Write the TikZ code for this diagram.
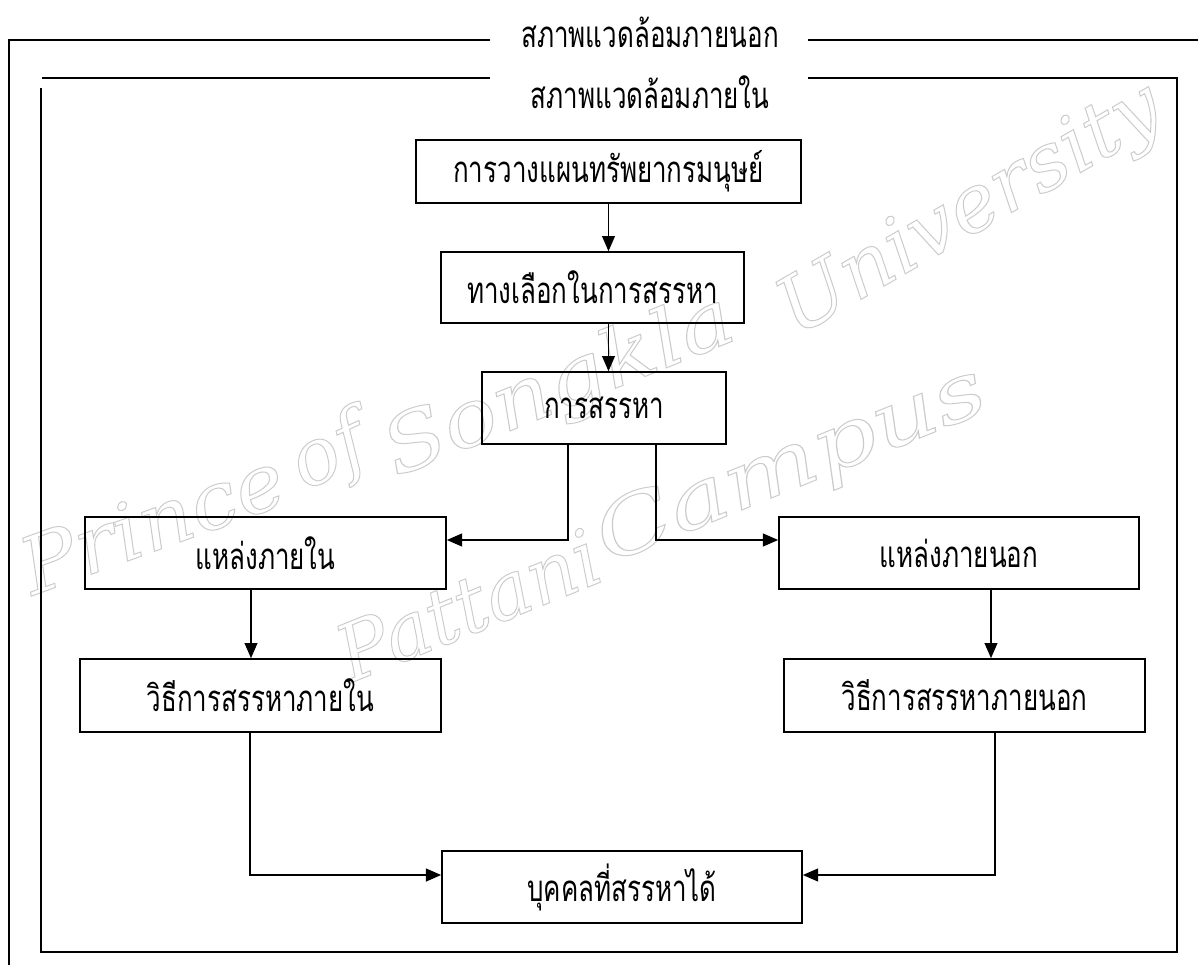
\documentclass[tikz,border=0pt]{standalone}
\usepackage{fontspec}
\usepackage{graphicx}
\newfontfamily\thaifont[Script=Thai, FakeStretch=0.71]{Loma}
\newfontfamily\wmfont{DejaVu Serif}
\usetikzlibrary{arrows.meta}
\newcommand{\outlinetext}[1]{\special{pdf:literal direct 1 Tr 0.7 w}#1\special{pdf:literal direct 0 Tr}}
\newcommand{\wmword}[2]{\scalebox{#1}[1]{\outlinetext{#2}}}
\begin{document}
\begin{tikzpicture}[x=0.025cm,y=-0.025cm,
  box/.style={draw, line width=1.1pt, inner sep=0pt, font=\thaifont\fontsize{26}{30}\selectfont},
  ttl/.style={inner sep=0pt, font=\thaifont\fontsize{26}{30}\selectfont},
  frame/.style={line width=1.2pt},
  conn/.style={line width=1.1pt, -{Triangle[length=0.38cm,width=0.32cm]}},
  wm/.style={inner sep=0pt, text=gray!40, font=\wmfont\itshape\fontsize{56}{60}\selectfont}
]
\useasboundingbox (0,0) rectangle (1198,965);
\fill[white] (0,0) rectangle (1198,965);
% watermark (drawn beneath the diagram)
\node[wm, rotate=20] (w1) at (152,522) {\wmword{1.07}{Prince}};
\node[wm, rotate=25] (w2) at (330,455) {\wmword{1.0}{of}};
\node[wm, rotate=22] (w3) at (560,388) {\wmword{1.15}{Songkla}};
\node[wm, rotate=30] (w4) at (972,212) {\wmword{1.04}{University}};
\node[wm, rotate=22] (w5) at (468,605) {\wmword{0.98}{Pattani}};
\node[wm, rotate=22] (w6) at (792,467) {\wmword{1.28}{Campus}};
% frames
\node[ttl] (t1) at (650,32) {สภาพแวดล้อมภายนอก};
\node[ttl] (t2) at (650,92) {สภาพแวดล้อมภายใน};
\draw[frame] (490,40) -- (9,40) -- (9,965);
\draw[frame] (808,40) -- (1198,40);
\draw[frame] (42,78) -- (490,78);
\draw[frame] (808,78) -- (1177,78) -- (1177,952) -- (41,952) -- (41,88);
% boxes
\node[box, minimum width=9.625cm, minimum height=1.575cm] (A) at (608.5,171.5) {การวางแผนทรัพยากรมนุษย์};
\node[box, minimum width=7.575cm, minimum height=1.775cm] (B) at (592.5,287.5) {ทางเลือกในการสรรหา};
\node[box, minimum width=6.1cm, minimum height=1.8cm] (C) at (604,408) {การสรรหา};
\node[box, minimum width=9.025cm, minimum height=1.8cm] (D) at (265.5,553) {แหล่งภายใน};
\node[box, minimum width=9.0cm, minimum height=1.8cm] (E) at (959,553) {แหล่งภายนอก};
\node[box, minimum width=9.025cm, minimum height=1.825cm] (F) at (260.5,695.5) {วิธีการสรรหาภายใน};
\node[box, minimum width=9.025cm, minimum height=1.825cm] (G) at (964.5,695.5) {วิธีการสรรหาภายนอก};
\node[box, minimum width=9.0cm, minimum height=1.8cm] (H) at (622,887) {บุคคลที่สรรหาได้};
% connectors
\draw[conn] (A.south) -- (A.south |- B.north);
\draw[conn] (A.south |- B.south) -- (A.south |- C.north);
\draw[conn] (C.south -| 568,0) |- (D.east |- 0,540);
\draw[conn] (C.south -| 656,0) |- (E.west |- 0,540);
\draw[conn] (D.south -| 251,0) -- (F.north -| 251,0);
\draw[conn] (E.south -| 991,0) -- (G.north -| 991,0);
\draw[conn] (F.south -| 250,0) |- (H.west |- 0,875);
\draw[conn] (G.south -| 995,0) |- (H.east |- 0,875);
\end{tikzpicture}
\end{document}
